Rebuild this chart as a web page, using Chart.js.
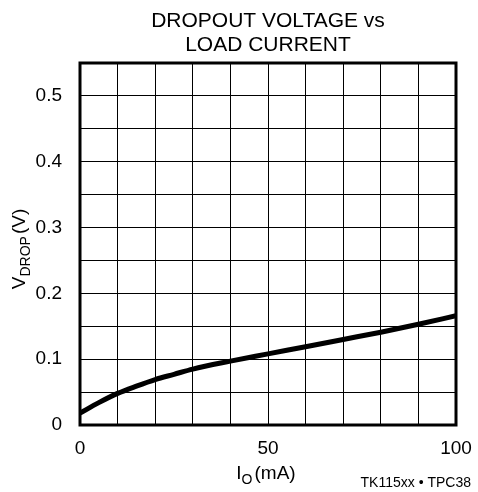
<!DOCTYPE html>
<html>
<head>
<meta charset="utf-8">
<script src="https://cdn.jsdelivr.net/npm/chart.js@4"></script>
<style>
  html, body { margin: 0; padding: 0; background: #fff; }
  #wrap { width: 478px; height: 492px; position: relative; }
</style>
</head>
<body>
<div id="wrap"><canvas id="dropChart" width="478" height="492"></canvas></div>
<script>
// Load current (mA) and dropout voltage (V)
const currentMA = [0, 5, 10, 15, 20, 25, 30, 40, 50, 60, 70, 80, 90, 100];
const dropV = [0.018, 0.034, 0.048, 0.059, 0.069, 0.077, 0.085, 0.097, 0.108, 0.119, 0.130, 0.141, 0.153, 0.166];

const xTickLabels = [0, 50, 100];
const yTickLabels = [0, 0.1, 0.2, 0.3, 0.4, 0.5];

const FONT = "'Liberation Sans', Arial, sans-serif";

// Plot box position in the page
const box = { left: 80, right: 456, top: 63, bottom: 425 };

const points = currentMA.map((x, i) => ({ x: x, y: dropV[i] }));

// draws "main" then a lowered subscript, then the rest, centred on cx
function subText(ctx, main, sub, rest, cx, y) {
    ctx.font = "19px " + FONT;
    const w1 = ctx.measureText(main).width;
    const w3 = ctx.measureText(rest).width;
    ctx.font = "14px " + FONT;
    const w2 = ctx.measureText(sub).width;
    let sx = cx - (w1 + w2 + 2 + w3) / 2;
    ctx.font = "19px " + FONT;
    ctx.fillText(main, sx, y);
    ctx.font = "14px " + FONT;
    ctx.fillText(sub, sx + w1, y + 6);
    ctx.font = "19px " + FONT;
    ctx.fillText(rest, sx + w1 + w2 + 2, y);
}

// Frame and the text with subscripts
const decor = {
    id: "decor",
    afterDraw(chart) {
        const ctx = chart.ctx;
        const a = chart.chartArea;
        ctx.save();
        ctx.strokeStyle = "#000";
        ctx.lineWidth = 3;
        ctx.strokeRect(a.left, a.top, a.right - a.left, a.bottom - a.top);

        ctx.fillStyle = "#000";
        ctx.textAlign = "center";
        ctx.textBaseline = "middle";
        ctx.font = "21px " + FONT;
        const cx = (a.left + a.right) / 2;
        ctx.fillText("DROPOUT VOLTAGE vs", cx, 21);
        ctx.fillText("LOAD CURRENT", cx, 45);

        ctx.textAlign = "left";
        subText(ctx, "I", "O", "(mA)", 266, 474);

        ctx.save();
        ctx.translate(20, 249);
        ctx.rotate(-Math.PI / 2);
        subText(ctx, "V", "DROP", "(V)", 0, 0);
        ctx.restore();

        ctx.textAlign = "right";
        ctx.font = "14px " + FONT;
        ctx.fillText("TK115xx \u2022 TPC38", 471, 483);
        ctx.restore();
    }
};

new Chart(document.getElementById("dropChart"), {
    type: "line",
    data: {
        datasets: [{
            data: points,
            borderColor: "#000",
            borderWidth: 5,
            pointRadius: 0,
            fill: false,
            cubicInterpolationMode: "monotone"
        }]
    },
    options: {
        responsive: false,
        animation: false,
        layout: { padding: { left: 0, right: 478 - box.right, top: box.top, bottom: 0 } },
        plugins: { legend: { display: false }, tooltip: { enabled: false } },
        scales: {
            x: {
                type: "linear",
                min: 0,
                max: 100,
                ticks: {
                    stepSize: 10,
                    color: "#000",
                    padding: 12,
                    maxRotation: 0,
                    font: { family: FONT, size: 19 },
                    callback: v => xTickLabels.includes(v) ? String(v) : ""
                },
                grid: { color: "#000", lineWidth: 1, drawTicks: false },
                border: { display: false },
                afterFit: s => {
                    s.height = 492 - box.bottom;
                    s.paddingLeft = 0;
                    s.paddingRight = 0;
                }
            },
            y: {
                min: 0,
                max: 0.55,
                ticks: {
                    stepSize: 0.05,
                    color: "#000",
                    padding: 18,
                    font: { family: FONT, size: 19 },
                    callback: v => {
                        const r = Math.round(v * 100) / 100;
                        if (!yTickLabels.some(t => Math.abs(t - r) < 1e-6)) return "";
                        return r === 0 ? "0" : r.toFixed(1);
                    }
                },
                grid: { color: "#000", lineWidth: 1, drawTicks: false },
                border: { display: false },
                afterFit: s => {
                    s.width = box.left;
                    s.paddingTop = 0;
                    s.paddingBottom = 0;
                }
            }
        }
    },
    plugins: [decor]
});
</script>
</body>
</html>
